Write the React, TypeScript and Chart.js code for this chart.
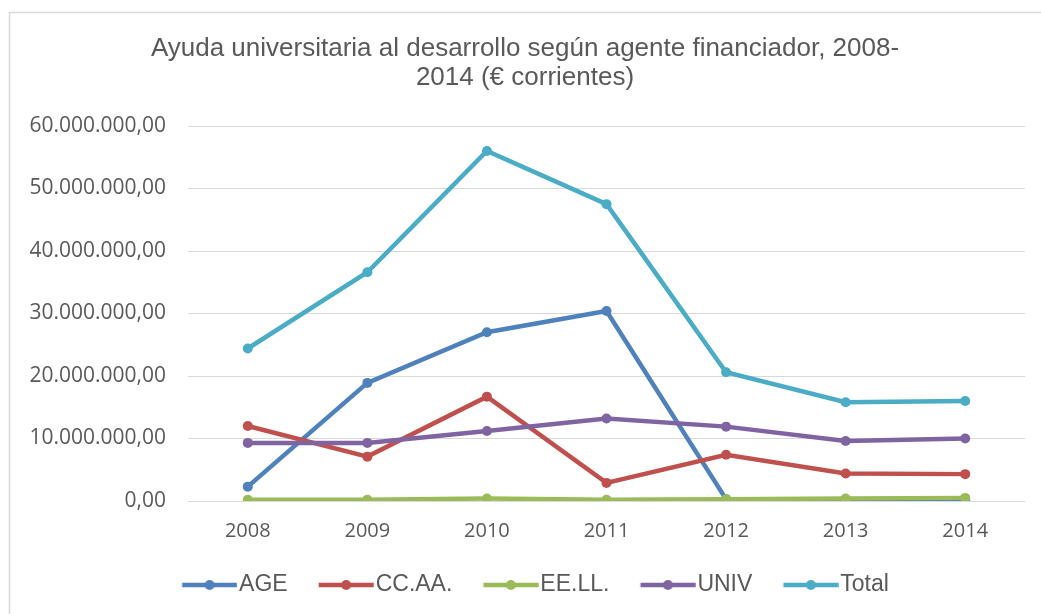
import React, { useEffect, useRef } from "react";
import { Chart, registerables } from "chart.js";

Chart.register(...registerables);

const years = ["2008", "2009", "2010", "2011", "2012", "2013", "2014"];
const seriesNames = ["AGE", "CC.AA.", "EE.LL.", "UNIV", "Total"];
const ageValues = [2300000, 18900000, 27000000, 30400000, 300000, 100000, 200000];
const ccaaValues = [12000000, 7100000, 16700000, 2900000, 7400000, 4400000, 4300000];
const eellValues = [200000, 200000, 400000, 200000, 300000, 400000, 500000];
const univValues = [9300000, 9300000, 11200000, 13200000, 11900000, 9600000, 10000000];
const totalValues = [24400000, 36600000, 56000000, 47500000, 20600000, 15800000, 16000000];
const seriesColors = ["#4F81BD", "#C0504D", "#9BBB59", "#8064A2", "#4BACC6"];
const titleLines = [
  "Ayuda universitaria al desarrollo según agente financiador, 2008-",
  "2014 (€ corrientes)",
];

function formatEs(v: number): string {
  const n = Math.round(v);
  const s = String(n).replace(/\B(?=(\d{3})+(?!\d))/g, ".");
  return s + ",00";
}

function makeLegendImage(color: string): HTMLCanvasElement {
  const c = document.createElement("canvas");
  c.width = 86;
  c.height = 14;
  const ctx = c.getContext("2d")!;
  ctx.strokeStyle = color;
  ctx.lineWidth = 4.5;
  ctx.beginPath();
  ctx.moveTo(30.75, 7);
  ctx.lineTo(85.75, 7);
  ctx.stroke();
  ctx.fillStyle = color;
  ctx.beginPath();
  ctx.arc(58.25, 7, 5, 0, Math.PI * 2);
  ctx.fill();
  return c;
}

const borderPlugin = {
  id: "outerBorder",
  beforeDraw(chart: any) {
    const ctx = chart.ctx;
    ctx.save();
    ctx.fillStyle = "#ffffff";
    ctx.fillRect(0, 0, chart.width, chart.height);
    ctx.strokeStyle = "#d9d9d9";
    ctx.lineWidth = 1.5;
    ctx.strokeRect(9.5, 12.5, chart.width + 20, chart.height + 20);
    ctx.restore();
  },
};

export default function App() {
  const ref = useRef<HTMLCanvasElement | null>(null);

  useEffect(() => {
    if (!ref.current) return;
    const allValues = [ageValues, ccaaValues, eellValues, univValues, totalValues];
    const images = seriesColors.map(makeLegendImage);
    const chart = new Chart(ref.current, {
      type: "line",
      data: {
        labels: years,
        datasets: seriesNames.map((name, i) => ({
          label: name,
          data: allValues[i],
          borderColor: seriesColors[i],
          backgroundColor: seriesColors[i],
          borderWidth: 4.5,
          pointRadius: 5,
          pointBorderWidth: 0,
          pointBackgroundColor: seriesColors[i],
          tension: 0,
          order: seriesNames.length - i,
        })),
      },
      options: {
        responsive: false,
        animation: false,
        layout: { padding: { left: 25, right: 16, top: 0, bottom: 7.5 } },
        plugins: {
          tooltip: { enabled: false },
          title: {
            display: true,
            text: titleLines,
            color: "#595959",
            font: { family: "'Liberation Sans', Arial, sans-serif", size: 26, weight: "normal", lineHeight: 1.1 },
            padding: { top: 35, bottom: 33.8 },
          },
          legend: {
            position: "bottom",
            labels: {
              usePointStyle: true,
              pointStyleWidth: 66.5,
              padding: 10,
              color: "#595959",
              font: { family: "'Liberation Sans', Arial, sans-serif", size: 23 },
              generateLabels: (ch: any) =>
                ch.data.datasets.map((ds: any, i: number) => ({
                  text: ds.label,
                  fillStyle: seriesColors[i],
                  strokeStyle: seriesColors[i],
                  lineWidth: 0,
                  pointStyle: images[i],
                  hidden: false,
                  datasetIndex: i,
                  fontColor: "#595959",
                })),
            },
          },
        },
        scales: {
          x: {
            offset: true,
            grid: { display: false, drawTicks: false },
            border: { display: false },
            ticks: {
              color: "#595959",
              font: { family: "'Open Sans', sans-serif", size: 20 },
              padding: 18,
              maxRotation: 0,
            },
            afterFit: (scale: any) => {
              scale.height = 62.5;
            },
          },
          y: {
            min: 0,
            max: 60000000,
            grid: { color: "#d9d9d9", lineWidth: 1, drawTicks: false },
            border: { display: false },
            ticks: {
              stepSize: 10000000,
              color: "#595959",
              font: { family: "'Open Sans', sans-serif", size: 21 },
              padding: 22,
              callback: (v: any) => formatEs(Number(v)),
            },
            afterFit: (scale: any) => {
              scale.width = 163;
            },
          },
        },
      },
      plugins: [borderPlugin],
    });
    return () => chart.destroy();
  }, []);

  return (
    <div style={{ position: "absolute", left: 0, top: 0, width: 1041, height: 614 }}>
      <canvas ref={ref} width={1041} height={614} style={{ display: "block" }} />
    </div>
  );
}
